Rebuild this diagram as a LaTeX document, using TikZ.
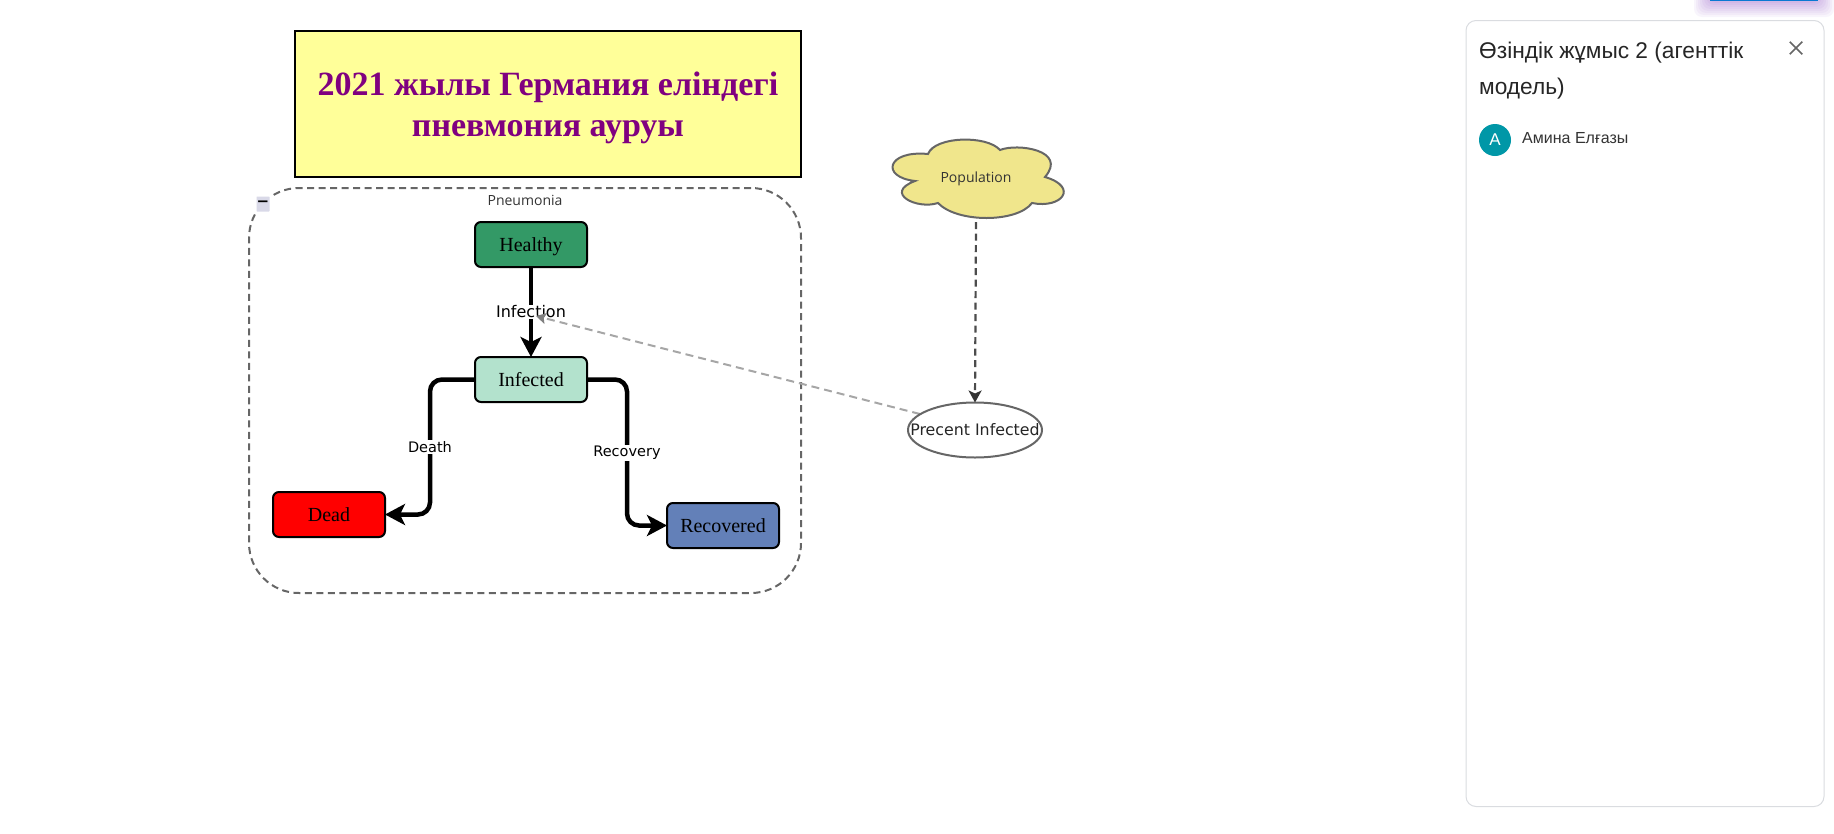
\documentclass[tikz,border=0pt]{standalone}
\usepackage{fontspec}
\setmainfont{Liberation Serif}
\newfontfamily\labelfont{Open Sans}
\newfontfamily\flowfont{DejaVu Sans}
\newfontfamily\panelfont{Liberation Sans}
\usetikzlibrary{arrows.meta, positioning, shapes.geometric, shapes.misc}
\definecolor{titlefill}{HTML}{FFFF99}
\definecolor{titletext}{HTML}{800080}
\definecolor{healthyfill}{HTML}{339966}
\definecolor{infectedfill}{HTML}{B3E2CD}
\definecolor{recoveredfill}{HTML}{6380B8}
\definecolor{cloudfill}{HTML}{F0E68C}
\definecolor{avatarfill}{HTML}{0097A7}
\definecolor{panelline}{HTML}{DADCE0}
\definecolor{buttonblue}{HTML}{0A78D2}
\newcommand{\fsize}[1]{\fontsize{#1}{#1}\selectfont}

\begin{document}
\begin{tikzpicture}[
    x=1pt, y=-1pt,
    titlebox/.style={rectangle, draw=black, line width=2pt, fill=titlefill,
                 minimum width=506pt, minimum height=146pt, align=center,
                 text=titletext, font=\fsize{34}\bfseries, outer sep=0pt},
    statebox/.style={rectangle, rounded corners=6pt, draw=black, line width=2pt,
                 minimum width=112pt, minimum height=45pt, align=center,
                 text height=13pt, text depth=0pt, font=\fsize{20}, outer sep=0pt},
    flowlabel/.style={fill=white, inner sep=1pt, font=\flowfont\fsize{14.5}},
    plainlabel/.style={text=black!80, inner sep=0pt, font=\labelfont\fsize{14}},
    flowarr/.style={line width=4.5pt, rounded corners=12pt,
                 -{Stealth[length=20pt, width=21pt, inset=5pt]}},
    linkarr/.style={draw=black!70, line width=2.2pt, dash pattern=on 7pt off 4.5pt,
                 -{Stealth[length=12pt, width=13pt, inset=3pt, black!80]}},
    inflarr/.style={draw=black!35, line width=2pt, dash pattern=on 8pt off 5pt,
                 -{Stealth[length=10pt, width=11pt, inset=2pt, black!50]}},
]
  \useasboundingbox (0,0) rectangle (1834,833);

  % Button at the top edge
  \foreach \grow in {2,4,...,16}
    \fill[violet!70!blue, opacity=0.04, rounded corners=8pt]
      (1710-\grow,-20) rectangle (1818+\grow,1+\grow);
  \fill[buttonblue] (1710,-10) rectangle (1818,1);

  % Title
  \node[titlebox] (title) at (548,103.5) {\rule{0pt}{33pt}2021 жылы Германия еліндегі\\[7pt]пневмония ауруы};

  % Group frame
  \node[rectangle, rounded corners=50pt, draw=black!60, line width=2pt,
        dash pattern=on 7pt off 4.5pt, minimum width=552pt, minimum height=405pt,
        outer sep=0pt] (group) at (525,390.5) {};
  \node[plainlabel] (grouplabel) at (525,200) {Pneumonia};
  \node[rectangle, rounded corners=1pt, draw=white, line width=2pt, fill=blue!40!black!15,
        minimum width=15pt, minimum height=17pt, inner sep=0pt, font=\flowfont\bfseries\fsize{15}]
        (collapse) at (263,204) {−};

  % States
  \node[statebox, fill=healthyfill]   (healthy)   at (531,244.5) {Healthy};
  \node[statebox, fill=infectedfill]  (infected)  at (531,379.5) {Infected};
  \node[statebox, fill=red]           (dead)      at (329,514.5) {Dead};
  \node[statebox, fill=recoveredfill] (recovered) at (723,525.5) {Recovered};

  % Flows
  \coordinate (deathbend) at (430,514.5);
  \coordinate (recoverybend) at (627,525.5);
  \draw[flowarr] (healthy.south) -- (infected.north);
  \draw[flowarr] (infected.west) -| (deathbend) -- (dead.east);
  \draw[flowarr] (infected.east) -| (recoverybend) -- (recovered.west);

  \node[flowlabel, font=\flowfont\fsize{16}] (infection) at (531,312) {Infection};
  \node[flowlabel] (death)     at (430,447) {Death};
  \node[flowlabel] (recovery)  at (627,453) {Recovery};

  % Right side
  \coordinate (inflend) at (536,316);
  \path[draw=black!60, line width=2pt, fill=cloudfill]
    (928,154) .. controls (935,136) and (987,135) .. (1000,150)
    .. controls (1017,143) and (1068,150) .. (1045,177)
    .. controls (1079,187) and (1062,209) .. (1032,203)
    .. controls (1017,223) and (957,223) .. (938,203)
    .. controls (917,210) and (883,193) .. (915,181)
    .. controls (880,177) and (887,150) .. (928,154) -- cycle;
  \node[plainlabel, minimum width=172pt, minimum height=77pt] (population) at (976,178.5) {Population};
  \draw[inflarr] (975,430) ++(-55,-16) coordinate (inflstart) -- (inflend);
  \node[ellipse, draw=black!60, line width=2pt, fill=white, minimum width=134pt,
        minimum height=55pt, inner sep=0pt, outer sep=0pt] (percent) at (975,430) {};
  \node[inner sep=0pt, text=black!85, font=\flowfont\fsize{15.8}] (percentlabel) at (percent.center) {Precent Infected};
  \draw[linkarr] (population.south) ++(0,5) -- (percent.north);

  % Side panel
  \node[rectangle, rounded corners=10pt, draw=panelline, line width=1pt, fill=white,
        minimum width=358pt, minimum height=786pt, outer sep=0pt] (panel) at (1645,413.5) {};
  \node[anchor=west, inner sep=0pt, text=black!85, font=\panelfont\fsize{22.7}]
        (paneltitle) at (1479,53) {Өзіндік жұмыс 2 (агенттік};
  \node[anchor=west, inner sep=0pt, text=black!85, font=\panelfont\fsize{22.7}]
        (paneltitleb) at (1479,88.5) {модель)};
  \node[cross out, draw=black!60, line width=1.5pt, minimum size=11pt, inner sep=0pt]
        (closeicon) at (1796,48) {};
  \node[circle, fill=avatarfill, minimum size=32pt, inner sep=0pt, text=white,
        font=\panelfont\fsize{17}] (avatar) at (1495,140) {А};
  \node[anchor=west, inner sep=0pt, text=black!80, font=\panelfont\fsize{16}]
        (username) at (1522,138.5) {Амина Елғазы};

\end{tikzpicture}
\end{document}
